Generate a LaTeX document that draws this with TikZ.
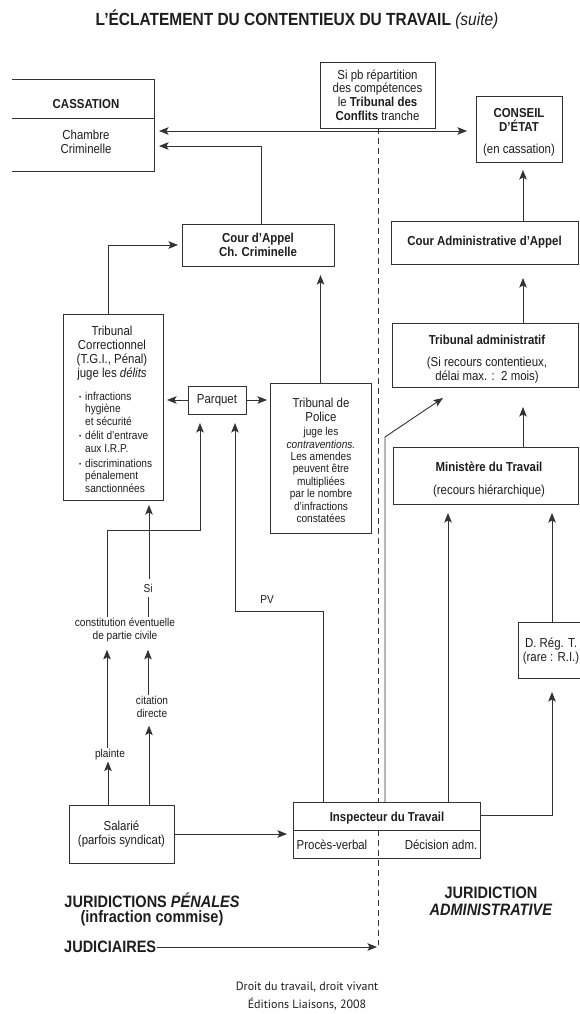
\documentclass[tikz,border=0pt]{standalone}
\usepackage{fontspec}
\setmainfont{Liberation Sans}[FakeStretch=0.88]
\newfontfamily\srcfont{PT Sans}
\usetikzlibrary{arrows.meta}
\definecolor{ink}{HTML}{1E1E1E}
\definecolor{linec}{HTML}{333333}
\newcommand\fnorm{\fontsize{13}{13.8}\selectfont}
\newcommand\fhead{\fontsize{13}{14}\selectfont\bfseries}
\newcommand\fsmall{\fontsize{11.5}{12.4}\selectfont}
\newcommand\fbig{\fontsize{16.5}{17}\selectfont\bfseries}
\newcommand\ftitle{\fontsize{17.6}{18}\selectfont\bfseries}
\begin{document}
\begin{tikzpicture}[x=1pt,y=-1pt,
  bx/.style={draw=linec,line width=0.9pt,inner sep=0pt,outer sep=0pt,align=center,text=ink},
  lbl/.style={inner sep=1pt,align=center,text=ink},
  boxline/.style={draw=linec,line width=0.9pt},
  plain/.style={draw=linec,line width=0.9pt},
  arr/.style={draw=linec,line width=0.9pt,-{Stealth[length=9.5pt,width=7.5pt,inset=2pt]}},
  arrs/.style={draw=linec,line width=0.9pt,{Stealth[length=9.5pt,width=7.5pt,inset=2pt]}-{Stealth[length=9.5pt,width=7.5pt,inset=2pt]}},
  dashln/.style={draw=linec,line width=0.75pt,dash pattern=on 6pt off 4pt}]
\useasboundingbox[fill=white] (0,0) rectangle (579,1014);

% title
\node[lbl,font=\ftitle] (title) at (297,20) {L'ÉCLATEMENT DU CONTENTIEUX DU TRAVAIL \textmd{\textit{(suite)}}};

% Cassation
\node[bx,draw=none,minimum width=142pt,minimum height=92pt] (cass) at (83,125) {};
\draw[boxline] (cass.north west) -- (cass.north east) -- (cass.south east) -- (cass.south west);
\draw[boxline] (cass.west |- 0,118) -- (cass.east |- 0,118);
\node[lbl,font=\fhead] (cassT) at (86,104) {CASSATION};
\node[lbl,font=\fnorm] (cassC) at (86,141.5) {Chambre\\Criminelle};

% Tribunal des conflits
\node[bx,minimum width=115pt,minimum height=66pt,font=\fnorm] (tdc) at (377.5,95) {Si pb répartition\\des compétences\\le \textbf{Tribunal des}\\\textbf{Conflits} tranche};

% Conseil d'Etat
\node[bx,minimum width=86pt,minimum height=66pt] (ce) at (519,129) {};
\node[lbl,font=\fhead] (ceT) at (519,120) {CONSEIL\\D'ÉTAT};
\node[lbl,font=\fnorm] (ceC) at (519,150) {(en cassation)};

% Cour d'appel
\node[bx,minimum width=152pt,minimum height=42pt,font=\fhead] (cour) at (258,245) {Cour d'Appel\\Ch. Criminelle};

% Tribunal correctionnel
\node[bx,minimum width=100pt,minimum height=186pt] (tc) at (113,407) {};
\node[lbl,font=\fnorm] (tcT) at (112,353) {Tribunal\\Correctionnel\\(T.G.I., Pénal)\\juge les \textit{délits}};
\node[lbl,font=\fsmall,align=left,anchor=west] (tcL) at (78,442) {%
\makebox[6pt][l]{\raisebox{1pt}{\fontsize{7}{7}\selectfont\textbullet}}infractions\\
\hspace*{6pt}hygiène\\
\hspace*{6pt}et sécurité\\[2.5pt]
\makebox[6pt][l]{\raisebox{1pt}{\fontsize{7}{7}\selectfont\textbullet}}délit d'entrave\\
\hspace*{6pt}aux I.R.P.\\[2.5pt]
\makebox[6pt][l]{\raisebox{1pt}{\fontsize{7}{7}\selectfont\textbullet}}discriminations\\
\hspace*{6pt}pénalement\\
\hspace*{6pt}sanctionnées};

% Parquet
\node[bx,minimum width=58pt,minimum height=28pt,font=\fnorm] (parq) at (217,400) {Parquet};

% Tribunal de police
\node[bx,minimum width=101pt,minimum height=150pt] (tp) at (320.5,458) {};
\node[lbl,font=\fnorm] (tpT) at (321,409.5) {Tribunal de\\Police};
\node[lbl,font=\fsmall] (tpL) at (321,475) {juge les\\\textit{contraventions.}\\Les amendes\\peuvent être\\multipliées\\par le nombre\\d'infractions\\constatées};

% right column
\node[bx,minimum width=187pt,minimum height=43pt,font=\fhead] (cad) at (484.5,242.5) {Cour Administrative d'Appel};
\node[bx,minimum width=186pt,minimum height=64pt] (ta) at (485,355) {};
\node[lbl,font=\fhead] (taT) at (487,340) {Tribunal administratif};
\node[lbl,font=\fnorm] (taC) at (487,370) {(Si recours contentieux,\\délai max. : \,2 mois)};
\node[bx,minimum width=185pt,minimum height=57pt] (min) at (485.5,475.5) {};
\node[lbl,font=\fhead] (minT) at (489,467) {Ministère du Travail};
\node[lbl,font=\fnorm] (minC) at (489,491) {(recours hiérarchique)};
\node[bx,minimum width=67pt,minimum height=56pt] (drt) at (551.5,650) {};
\node[lbl,font=\fnorm] (drtT) at (551,651) {D. Rég. T.\\(rare : R.I.)};

% Inspecteur
\node[bx,minimum width=187pt,minimum height=56pt] (insp) at (386.5,830) {};
\draw[boxline] (insp.west) -- (insp.east);
\node[lbl,font=\fhead] (inspT) at (387,818.5) {Inspecteur du Travail};
\node[lbl,font=\fnorm] (inspP) at (332,845) {Procès-verbal};
\node[lbl,font=\fnorm] (inspD) at (441,845) {Décision adm.};

% Salarie
\node[bx,minimum width=105pt,minimum height=58pt,font=\fnorm] (sal) at (121.5,834) {Salarié\\(parfois syndicat)};

% labels
\node[lbl,font=\fsmall] (plainte) at (110,755) {plainte};
\node[lbl,font=\fsmall] (citation) at (152,707) {citation\\directe};
\node[lbl,font=\fsmall] (constit) at (125,630) {constitution éventuelle\\de partie civile};
\node[lbl,font=\fsmall,inner ysep=5pt] (si) at (148,588) {Si};
\node[lbl,font=\fsmall] (pv) at (267,600) {PV};

% bottom texts
\node[lbl,font=\fbig] (jp) at (152,900) {JURIDICTIONS \textit{PÉNALES}};
\node[lbl,font=\fbig] (ic) at (152,918) {(infraction commise)};
\node[lbl,font=\fbig] (ja) at (491,901) {JURIDICTION\\\textit{ADMINISTRATIVE}};
\node[lbl,font=\fbig,anchor=west] (jud) at (63,947) {JUDICIAIRES};
\node[lbl,font={\srcfont\fontsize{12}{18}\selectfont}] (src) at (307,996) {Droit du travail, droit vivant\\Éditions Liaisons, 2008};

\coordinate (dashend) at (378,945);
\coordinate (judtip) at (377,947);
\coordinate (diagtip) at (443,398);

% connectors top
\draw[arrs,shorten <=5pt,shorten >=9pt] (cass.east |- 0,131) -- (ce.west |- 0,131);
\draw[arr,shorten >=5pt] (cour.north -| 261,0) |- (cass.east |- 0,146);
\draw[arr,shorten >=4pt] (tc.north -| 108,0) |- (cour.west);
\draw[arr,shorten >=9pt] (tp.north) -- (tp.north |- cour.south);
\draw[arr,shorten >=4pt] (parq.west) -- (tc.east |- parq.west);
\draw[arr,shorten >=3pt] (parq.east) -- (tp.west |- parq.east);

% right column connectors
\draw[arr,shorten >=8pt] (cad.north -| 523,0) -- (ce.south -| 523,0);
\draw[arr,shorten >=14pt] (ta.north -| 523,0) -- (cad.south -| 523,0);
\draw[arr,shorten >=20pt] (min.north -| 523,0) -- (ta.south -| 523,0);
\draw[arr,shorten >=9pt] (insp.north -| 448,0) -- (min.south -| 448,0);
\draw[arr,shorten >=9pt] (drt.north -| 552,0) -- (min.south -| 552,0);
\draw[arr,shorten >=14pt] (insp.east |- 0,815) -| (drt.south -| 552,0);
\draw[arr] (insp.north -| 385,0) -- (385,437) -- (diagtip);

% dashed separation
\draw[dashln] (tdc.south -| 378,0) -- (insp.north -| 378,0);
\draw[dashln] (insp.center -| 378,0) -- (dashend);

% left lower connectors
\draw[arr,shorten >=6pt] (sal.east) -- (insp.west |- sal.east);
\draw[arr] (sal.north -| 108,0) -- (plainte.south -| 108,0);
\draw[arr,shorten >=7pt] (plainte.north -| 107,0) -- (constit.south -| 107,0);
\draw[arr,shorten >=7pt] (sal.north -| 149,0) -- (citation.south -| 149,0);
\draw[arr,shorten >=7pt] (citation.north -| 148,0) -- (constit.south -| 148,0);
\draw[plain] (constit.north -| 148,0) -- (si.south -| 148,0);
\draw[arr,shorten >=5pt] (si.north -| 149,0) -- (tc.south -| 149,0);
\draw[arr,shorten >=9pt] (constit.north -| 107,0) -- (107,530) -| (parq.south -| 200,0);
\draw[arr,shorten >=9pt] (insp.north -| 323,0) -- (323,611) -| (parq.south -| 235,0);
\draw[arr] (jud.east) -- (judtip);
\end{tikzpicture}
\end{document}
